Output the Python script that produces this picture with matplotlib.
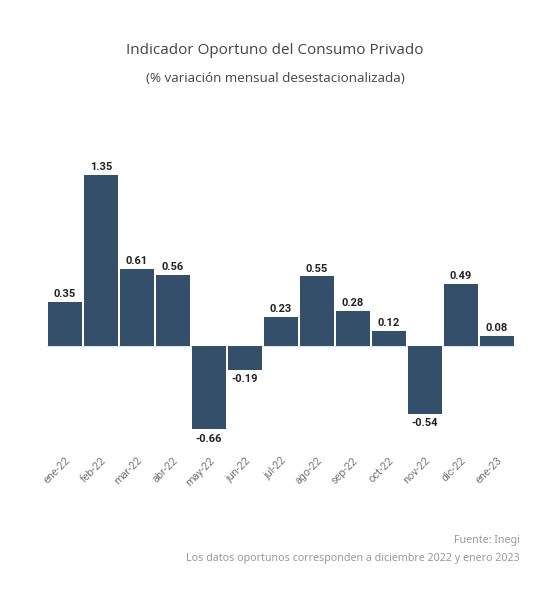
import matplotlib
matplotlib.use("Agg")
import matplotlib.pyplot as plt

categories = ["ene-22", "feb-22", "mar-22", "abr-22", "may-22", "jun-22", "jul-22",
              "ago-22", "sep-22", "oct-22", "nov-22", "dic-22", "ene-23"]
values = [0.35, 1.35, 0.61, 0.56, -0.66, -0.19, 0.23, 0.55, 0.28, 0.12, -0.54, 0.49, 0.08]

W, H = 550, 598
fig = plt.figure(figsize=(W / 100, H / 100), dpi=100)
ax = fig.add_axes([47 / W, (H - 447.2) / H, 468 / W, 291 / H])

x = list(range(len(categories)))
bars = ax.bar(x, values, width=0.95, color="#344f69", edgecolor="none", zorder=2)
ax.axhline(0, color="#dce8f2", lw=1, zorder=1)
ax.set_xlim(-0.5, len(categories) - 0.5)
ax.set_ylim(-0.8, 1.5)

for xi, v in zip(x, values):
    if v >= 0:
        ax.annotate(f"{v:.2f}", (xi, v), xytext=(0, 2), textcoords="offset points",
                    ha="center", va="bottom", fontsize=8, fontweight="bold",
                    color="#222222", family="Roboto")
    else:
        ax.annotate(f"{v:.2f}", (xi, v), xytext=(0, -3), textcoords="offset points",
                    ha="center", va="top", fontsize=8, fontweight="bold",
                    color="#222222", family="Roboto")

ax.set_yticks([])
ax.set_xticks(x)
ax.set_xticklabels(categories, rotation=45, ha="right", rotation_mode="anchor",
                   fontsize=7.8, color="#777777", family="Roboto")
ax.tick_params(axis="x", length=0, pad=6)
for s in ax.spines.values():
    s.set_visible(False)

fig.text(0.5, 1 - 50 / H, "Indicador Oportuno del Consumo Privado", ha="center", va="center",
         fontsize=11, color="#444444", family="Open Sans")
fig.text(0.5, 1 - 79 / H, "(% variación mensual desestacionalizada)", ha="center", va="center",
         fontsize=9.7, color="#444444", family="Open Sans")
fig.text(520 / W, 1 - 540 / H, "Fuente: Inegi", ha="right", va="center",
         fontsize=7.7, color="#999999", family="Noto Sans")
fig.text(520 / W, 1 - 559 / H, "Los datos oportunos corresponden a diciembre 2022 y enero 2023",
         ha="right", va="center", fontsize=7.7, color="#999999", family="Noto Sans")

fig.savefig("out.png", dpi=100, facecolor="white")
